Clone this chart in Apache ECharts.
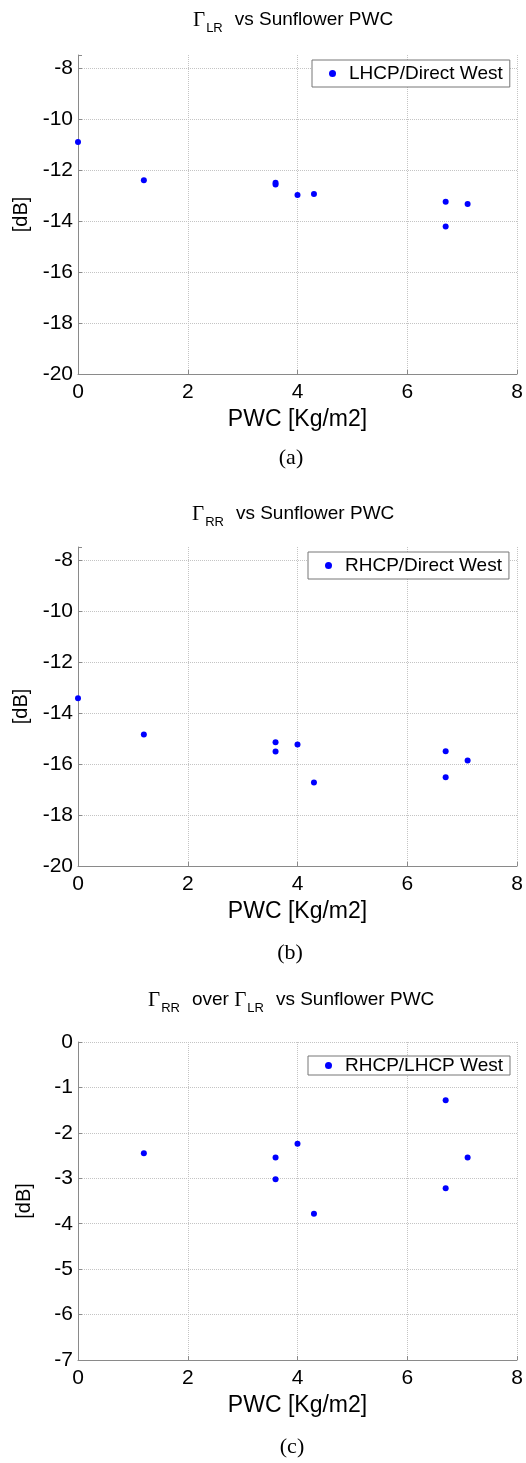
<!DOCTYPE html>
<html>
<head>
<meta charset="utf-8">
<script src="https://cdn.jsdelivr.net/npm/echarts@6/dist/echarts.min.js"></script>
<style>
html,body{margin:0;padding:0;background:#fff;}
#chart{width:526px;height:1463px;}
</style>
</head>
<body>
<div id="chart"></div>
<script>
// ---- data ----
const pwcDirect = [0, 1.2, 3.6, 3.6, 4.0, 4.3, 6.7, 6.7, 7.1];
const gammaLR = [-10.91, -12.41, -12.51, -12.57, -12.99, -12.95, -13.25, -14.22, -13.34];
const gammaRR = [-13.43, -14.85, -15.15, -15.51, -15.24, -16.73, -15.50, -16.52, -15.87];
const pwcRatio = [1.2, 3.6, 3.6, 4.0, 4.3, 6.7, 6.7, 7.1];
const ratioRRoverLR = [-2.45, -2.54, -3.02, -2.24, -3.78, -1.28, -3.22, -2.54];
const xTicks = [0, 2, 4, 6, 8];
const seriesNames = ['LHCP/Direct West', 'RHCP/Direct West', 'RHCP/LHCP West'];
const panelLabels = ['(a)', '(b)', '(c)'];
const xName = 'PWC [Kg/m2]';
const yName = '[dB]';

const zip = (xs, ys) => xs.map((x, i) => [x, ys[i]]);

const chart = echarts.init(document.getElementById('chart'), null, {renderer: 'canvas'});

const SANS = 'Liberation Sans, Arial, Helvetica, sans-serif';
const SERIF = 'Liberation Serif, Times New Roman, serif';
const axisGray = '#8a8a8a';
const gridGray = '#c4c4c4';

const grids = [
  {left: 78, width: 439, top: 55, height: 319},
  {left: 78, width: 439, top: 547, height: 319},
  {left: 78, width: 439, top: 1042, height: 318}
];

function xAxisFor(i) {
  return {
    type: 'value', gridIndex: i, min: xTicks[0], max: xTicks[xTicks.length - 1], interval: 2,
    name: xName, nameLocation: 'middle', nameGap: 34,
    nameTextStyle: {fontFamily: SANS, fontSize: 23, color: '#000'},
    axisLine: {show: true, onZero: false, lineStyle: {color: axisGray, width: 1}},
    axisTick: {show: true, inside: true, length: 4, lineStyle: {color: axisGray}},
    axisLabel: {fontFamily: SANS, fontSize: 21, color: '#000', margin: 8},
    splitLine: {show: true, lineStyle: {color: gridGray, type: [1, 1], width: 1}}
  };
}
function yAxisFor(i, min, max, interval, showMax) {
  return {
    type: 'value', gridIndex: i, min: min, max: max, interval: interval,
    name: yName, nameLocation: 'middle', nameGap: 44,
    nameTextStyle: {fontFamily: SANS, fontSize: 20, color: '#000'},
    axisLine: {show: true, onZero: false, lineStyle: {color: axisGray, width: 1}},
    axisTick: {show: true, inside: true, length: 4, lineStyle: {color: axisGray}},
    axisLabel: {
      fontFamily: SANS, fontSize: 21, color: '#000', margin: 5,
      formatter: v => (Math.abs(v / interval - Math.round(v / interval)) < 1e-6 ? String(v) : '')
    },
    splitLine: {show: true, showMaxLine: showMax, lineStyle: {color: gridGray, type: [1, 1], width: 1}}
  };
}

function titleRich() {
  return {
    g: {fontFamily: SERIF, fontSize: 21, fontWeight: 'normal', color: '#000', lineHeight: 22, verticalAlign: 'top'},
    m: {fontFamily: SANS, fontSize: 19, fontWeight: 'normal', color: '#000', lineHeight: 22, verticalAlign: 'top'},
    s: {fontFamily: SANS, fontSize: 13, fontWeight: 'normal', color: '#000', lineHeight: 14, verticalAlign: 'top', padding: [12, 0, 0, 1]},
    sp: {fontFamily: SANS, fontSize: 19, fontWeight: 'normal', lineHeight: 22, verticalAlign: 'top', width: 12}
  };
}

const titles = [
  {text: '{g|Γ}{s|LR}{sp|}{m|vs Sunflower PWC}', left: 193, top: 10},
  {text: '{g|Γ}{s|RR}{sp|}{m|vs Sunflower PWC}', left: 192, top: 504},
  {text: '{g|Γ}{s|RR}{sp|}{m|over }{g|Γ}{s|LR}{sp|}{m|vs Sunflower PWC}', left: 148, top: 990}
].map(t => ({text: t.text, left: t.left, top: t.top, padding: 0,
  textStyle: {fontWeight: 'normal', rich: titleRich()}}));

function legendFor(i, name, left, top, pad) {
  return {
    data: [name], left: left, top: top, orient: 'horizontal',
    backgroundColor: '#fff', borderColor: '#777', borderWidth: 1,
    padding: pad, itemWidth: 7, itemHeight: 7, icon: 'circle',
    formatter: n => '{t|' + n + '}',
    textStyle: {fontFamily: SANS, fontSize: 19, color: '#000',
      rich: {t: {fontFamily: SANS, fontSize: 19, color: '#000', padding: [0, 0, 0, 8]}}},
    selectedMode: false
  };
}

function scatterFor(i, name, data) {
  return {
    type: 'scatter', name: name, xAxisIndex: i, yAxisIndex: i,
    data: data, symbol: 'circle', symbolSize: 6,
    itemStyle: {color: '#0000ff', opacity: 1}, clip: false, z: 3
  };
}

const option = {
  backgroundColor: '#fff',
  animation: false,
  title: titles,
  grid: grids,
  xAxis: [xAxisFor(0), xAxisFor(1), xAxisFor(2)],
  yAxis: [yAxisFor(0, -20, -7.5, 2, false), yAxisFor(1, -20, -7.5, 2, false), yAxisFor(2, -7, 0, 1, true)],
  legend: [
    legendFor(0, seriesNames[0], 312, 60, [4, 7, 4, 17]),
    legendFor(1, seriesNames[1], 308, 552, [4, 7, 4, 17]),
    legendFor(2, seriesNames[2], 308, 1056, [0, 7, 0, 17])
  ],
  series: [
    scatterFor(0, seriesNames[0], zip(pwcDirect, gammaLR)),
    scatterFor(1, seriesNames[1], zip(pwcDirect, gammaRR)),
    scatterFor(2, seriesNames[2], zip(pwcRatio, ratioRRoverLR))
  ],
  graphic: [
    {type: 'text', x: 291, y: 458, style: {text: panelLabels[0], font: '22px ' + SERIF, fill: '#000', align: 'center', verticalAlign: 'middle'}},
    {type: 'text', x: 290, y: 953, style: {text: panelLabels[1], font: '22px ' + SERIF, fill: '#000', align: 'center', verticalAlign: 'middle'}},
    {type: 'text', x: 292, y: 1447, style: {text: panelLabels[2], font: '22px ' + SERIF, fill: '#000', align: 'center', verticalAlign: 'middle'}}
  ]
};
chart.setOption(option);
</script>
</body>
</html>
